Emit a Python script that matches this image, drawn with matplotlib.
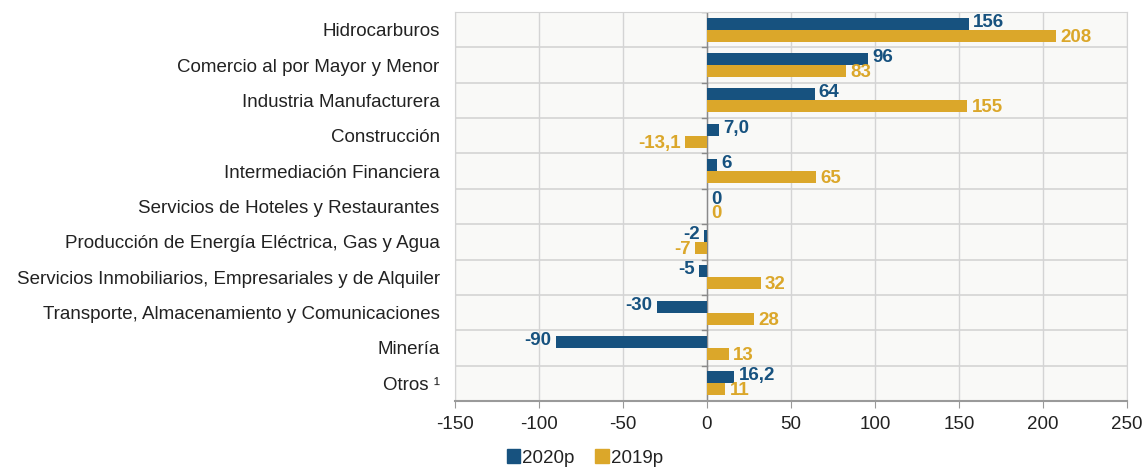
import matplotlib
matplotlib.use("Agg")
import matplotlib.pyplot as plt
from matplotlib.patches import Patch

plt.rcParams['font.family'] = ['Liberation Sans', 'DejaVu Sans']

categories = ["Hidrocarburos", "Comercio al por Mayor y Menor", "Industria Manufacturera",
              "Construcción", "Intermediación Financiera", "Servicios de Hoteles y Restaurantes",
              "Producción de Energía Eléctrica, Gas y Agua",
              "Servicios Inmobiliarios, Empresariales y de Alquiler",
              "Transporte, Almacenamiento y Comunicaciones", "Minería", "Otros ¹"]
v2020 = [156, 96, 64, 7.0, 6, 0, -2, -5, -30, -90, 16.2]
v2019 = [208, 83, 155, -13.1, 65, 0, -7, 32, 28, 13, 11]
lab2020 = ["156", "96", "64", "7,0", "6", "0", "-2", "-5", "-30", "-90", "16,2"]
lab2019 = ["208", "83", "155", "-13,1", "65", "0", "-7", "32", "28", "13", "11"]
xticks = [-150, -100, -50, 0, 50, 100, 150, 200, 250]

c20 = "#17527f"
c19 = "#dba72a"
fs = 13.5

fig = plt.figure(figsize=(11.44, 4.67), dpi=100)
ax = fig.add_axes([455/1144, 1-401/467, (1127-455)/1144, (401-12)/467])
ax.set_facecolor("#f9f9f7")

n = len(categories)
h = 0.34
ys = list(range(n))
ax.barh([y - h/2 for y in ys], v2020, height=h, color=c20, zorder=3)
ax.barh([y + h/2 for y in ys], v2019, height=h, color=c19, zorder=3)

for y, v, t in zip(ys, v2020, lab2020):
    if v >= 0:
        ax.text(v + 2.5, y - h/2 - 0.04, t, ha='left', va='center', color=c20,
                fontsize=fs, fontweight='bold', zorder=4)
    else:
        ax.text(v - 2.5, y - h/2 - 0.04, t, ha='right', va='center', color=c20,
                fontsize=fs, fontweight='bold', zorder=4)
for y, v, t in zip(ys, v2019, lab2019):
    if v >= 0:
        ax.text(v + 2.5, y + h/2 + 0.04, t, ha='left', va='center', color=c19,
                fontsize=fs, fontweight='bold', zorder=4)
    else:
        ax.text(v - 2.5, y + h/2 + 0.04, t, ha='right', va='center', color=c19,
                fontsize=fs, fontweight='bold', zorder=4)

ax.set_xlim(-150, 250)
ax.set_ylim(n - 0.5, -0.5)
ax.set_xticks(xticks)
ax.set_xticklabels([str(x) for x in xticks], fontsize=fs, color="#222222")
ax.set_yticks(ys)
ax.set_yticklabels(categories, fontsize=fs, color="#222222")
ax.tick_params(axis='y', length=0, pad=11)
ax.tick_params(axis='x', length=5, color="#999999", pad=6)

# grid
for x in xticks:
    ax.axvline(x, color="#d4d4d4", lw=1, zorder=1)
for b in range(n + 1):
    ax.axhline(b - 0.5, color="#d4d4d4", lw=1.2, zorder=1)
ax.axvline(0, color="#8a8a8a", lw=1, zorder=2)
for b in range(n + 1):
    ax.plot([-3, 0], [b - 0.5, b - 0.5], color="#8a8a8a", lw=1, zorder=2)

for s in ['top', 'right', 'left']:
    ax.spines[s].set_color("#d4d4d4")
ax.spines['bottom'].set_color("#9a9a9a")
ax.spines['bottom'].set_linewidth(1.5)

handles = [Patch(color=c20, label="2020p"), Patch(color=c19, label="2019p")]
fig.legend(handles=handles, loc='center', bbox_to_anchor=(585/1144, 1-458/467), ncol=2,
           frameon=False, fontsize=fs, handlelength=0.7, handleheight=0.7,
           handletextpad=0.15, columnspacing=1.1, labelcolor="#222222")

fig.savefig("out.png", dpi=100)
